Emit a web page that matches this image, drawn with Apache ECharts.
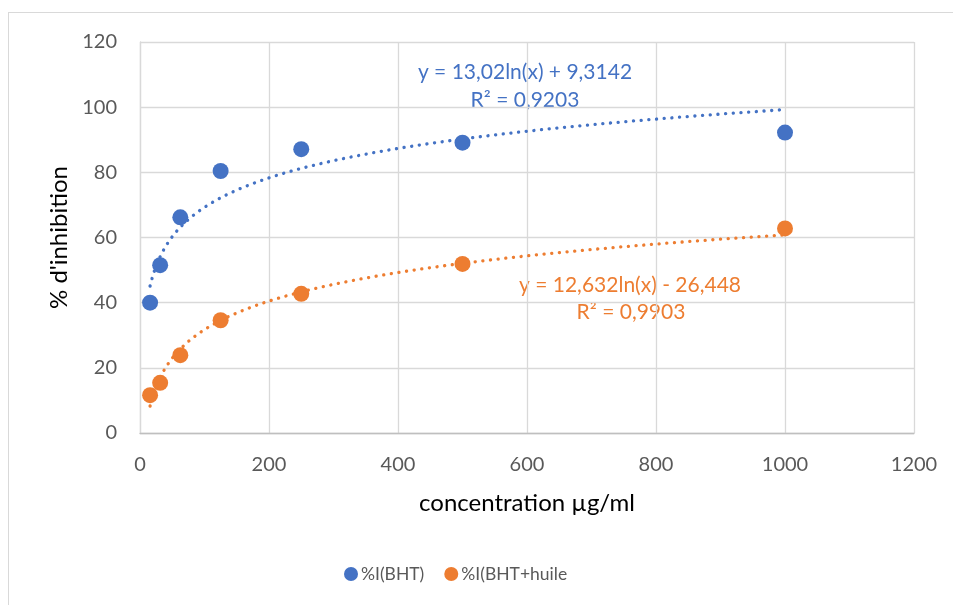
<!DOCTYPE html>
<html><head><meta charset="utf-8">
<script src="https://cdn.jsdelivr.net/npm/echarts@6/dist/echarts.min.js"></script>
<style>
html,body{margin:0;padding:0;background:#fff;overflow:hidden}
#frame{position:absolute;left:8px;top:12px;width:960px;height:620px;border:1px solid #D9D9D9;box-sizing:border-box}
#c{position:absolute;left:0;top:0;width:953px;height:605px}
</style></head>
<body><div id="frame"></div><div id="c"></div>
<script>
const concentrations = [15.625, 31.25, 62.5, 125, 250, 500, 1000];
const inhibitionBHT = [40.0, 51.5, 66.2, 80.4, 87.1, 89.1, 92.2];
const inhibitionBHTHuile = [11.6, 15.4, 23.9, 34.6, 42.7, 51.9, 62.8];
const seriesNames = ['%I(BHT)', '%I(BHT+huile'];
const trendBHT = [13.02, 9.3142];      // y = a ln(x) + b, as printed on the chart
const trendBHTHuile = [12.632, -26.448];
const equationLabels = ['y = 13,02ln(x) + 9,3142', 'R² = 0,9203', 'y = 12,632ln(x) - 26,448', 'R² = 0,9903'];
const xTicks = [0, 200, 400, 600, 800, 1000, 1200];
const yTicks = [0, 20, 40, 60, 80, 100, 120];

const BLUE = '#4472C4', ORANGE = '#ED7D31';
function trendPoints(coef) {
  const pts = [];
  const x0 = concentrations[0], x1 = concentrations[concentrations.length - 1];
  const n = 200;
  for (let i = 0; i <= n; i++) {
    const x = x0 * Math.pow(x1 / x0, i / n);
    pts.push([x, coef[0] * Math.log(x) + coef[1]]);
  }
  return pts;
}
const font = 'Lato, "Open Sans", sans-serif';
const chart = echarts.init(document.getElementById('c'), null, {renderer: 'canvas'});
const scatterStyle = (color) => ({color: color, opacity: 1});
const trendLine = (color) => ({color: color, width: 3.3, type: [0.1, 7.6], cap: 'round'});
chart.setOption({
  animation: false,
  backgroundColor: 'transparent',
  grid: {left: 140, top: 42, right: 39, bottom: 172, containLabel: false},
  xAxis: {
    type: 'value', min: xTicks[0], max: xTicks[xTicks.length - 1], interval: 200,
    name: 'concentration µg/ml', nameLocation: 'middle', nameGap: 58,
    nameTextStyle: {color: '#000', fontSize: 24, fontFamily: font},
    axisLine: {show: true, lineStyle: {color: '#BFBFBF', width: 1.3}},
    axisTick: {show: false},
    axisLabel: {color: '#595959', fontSize: 20, fontFamily: font, margin: 22,
      formatter: (v) => String(v)},
    splitLine: {show: true, lineStyle: {color: '#D9D9D9', width: 1.3}}
  },
  yAxis: {
    type: 'value', min: yTicks[0], max: yTicks[yTicks.length - 1], interval: 20,
    name: "% d'inhibition", nameLocation: 'middle', nameGap: 68, nameRotate: 90,
    nameTextStyle: {color: '#000', fontSize: 24, fontFamily: font},
    axisLine: {show: true, lineStyle: {color: '#D9D9D9', width: 1.3}},
    axisTick: {show: false},
    axisLabel: {color: '#595959', fontSize: 20, fontFamily: font, margin: 23},
    splitLine: {show: true, lineStyle: {color: '#D9D9D9', width: 1.3}}
  },
  legend: {
    bottom: 17, left: 339, itemGap: 20, itemWidth: 14, itemHeight: 14,
    icon: 'circle',
    textStyle: {color: '#595959', fontSize: 17.5, fontFamily: font, padding: [0, 0, 0, -2]},
    data: seriesNames
  },
  series: [
    {name: 'trend1', type: 'line', data: trendPoints(trendBHT), showSymbol: false, symbol: 'none',
     lineStyle: trendLine(BLUE), z: 2, silent: true},
    {name: 'trend2', type: 'line', data: trendPoints(trendBHTHuile), showSymbol: false, symbol: 'none',
     lineStyle: trendLine(ORANGE), z: 2, silent: true},
    {name: seriesNames[0], type: 'scatter', symbolSize: 16, itemStyle: scatterStyle(BLUE), z: 3,
     data: concentrations.map((x, i) => [x, inhibitionBHT[i]])},
    {name: seriesNames[1], type: 'scatter', symbolSize: 16, itemStyle: scatterStyle(ORANGE), z: 3,
     data: concentrations.map((x, i) => [x, inhibitionBHTHuile[i]])}
  ],
  graphic: [
    {type: 'text', x: 525, y: 72, style: {text: equationLabels[0], fill: BLUE, font: '21px ' + font, textAlign: 'center', textVerticalAlign: 'middle'}},
    {type: 'text', x: 525, y: 100, style: {text: equationLabels[1], fill: BLUE, font: '21px ' + font, textAlign: 'center', textVerticalAlign: 'middle'}},
    {type: 'text', x: 630, y: 285, style: {text: equationLabels[2], fill: ORANGE, font: '21px ' + font, textAlign: 'center', textVerticalAlign: 'middle'}},
    {type: 'text', x: 631, y: 312, style: {text: equationLabels[3], fill: ORANGE, font: '21px ' + font, textAlign: 'center', textVerticalAlign: 'middle'}}
  ]
});
</script></body></html>
